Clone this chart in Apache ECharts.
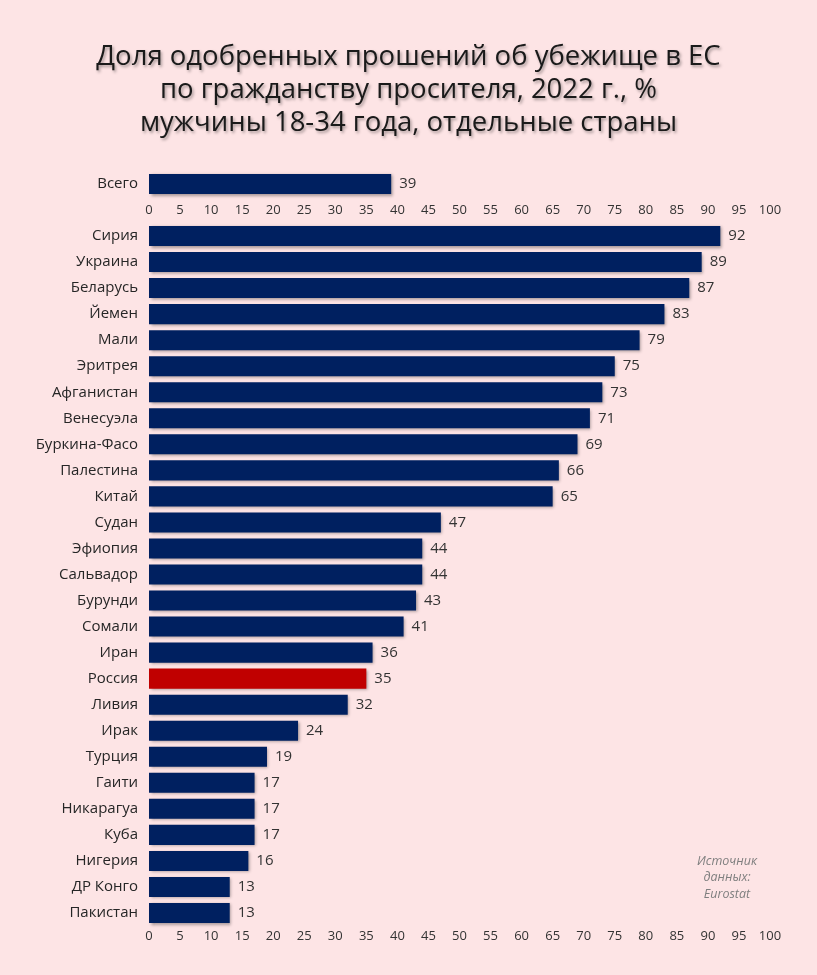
<!DOCTYPE html>
<html><head><meta charset="utf-8">
<script src="https://cdn.jsdelivr.net/npm/echarts@6/dist/echarts.min.js"></script>
<style>html,body{margin:0;padding:0;background:#FDE4E5;}#c{width:817px;height:975px;}</style>
</head><body><div id="c"></div>
<script>
const titleLines = ['Доля одобренных прошений об убежище в ЕС', 'по гражданству просителя, 2022 г., %', 'мужчины 18-34 года, отдельные страны'];
const totalCategory = ['Всего'];
const totalValues = [39];
const countries = ['Сирия','Украина','Беларусь','Йемен','Мали','Эритрея','Афганистан','Венесуэла','Буркина-Фасо','Палестина','Китай','Судан','Эфиопия','Сальвадор','Бурунди','Сомали','Иран','Россия','Ливия','Ирак','Турция','Гаити','Никарагуа','Куба','Нигерия','ДР Конго','Пакистан'];
const values = [92,89,87,83,79,75,73,71,69,66,65,47,44,44,43,41,36,35,32,24,19,17,17,17,16,13,13];
const highlight = 'Россия';
const sourceText = 'Источник\nданных:\nEurostat';

const NAVY = '#002060', RED = '#C00000';
const FONT = '"Open Sans", "Noto Sans", sans-serif';
const chart = echarts.init(document.getElementById('c'), null, {renderer: 'canvas'});
const xAxisCommon = {
  type: 'value', min: 0, max: 100, interval: 5,
  axisLine: {show: false}, axisTick: {show: false}, splitLine: {show: false},
  axisLabel: {color: '#333', fontSize: 13, fontFamily: FONT}
};
const yAxisCommon = {
  type: 'category', inverse: true,
  axisLine: {show: false}, axisTick: {show: false},
  axisLabel: {color: '#262626', fontSize: 15, fontFamily: FONT, margin: 11}
};
const barStyle = {shadowColor: 'rgba(0,0,0,0.35)', shadowBlur: 3, shadowOffsetX: 1.5, shadowOffsetY: 1.5};
const labelStyle = {show: true, position: 'right', distance: 8, color: '#333', fontSize: 15, fontFamily: FONT};

chart.setOption({
  backgroundColor: '#FDE4E5',
  animation: false,
  title: [{
    text: titleLines.join('\n'), left: 'center', top: 36,
    textStyle: {fontSize: 27.5, fontWeight: 'normal', color: '#1a1a1a', fontFamily: FONT, lineHeight: 33,
      textShadowColor: 'rgba(0,0,0,0.35)', textShadowBlur: 3, textShadowOffsetX: 1.5, textShadowOffsetY: 1.5}
  }, {
    text: sourceText, left: 722, top: 848, textAlign: 'center',
    textStyle: {fontSize: 12.5, fontStyle: 'italic', fontWeight: 'normal', color: '#7f7f7f', fontFamily: FONT, lineHeight: 16.5, align: 'center', width: 60}
  }],
  grid: [
    {left: 149, right: 47, top: 171, height: 26},
    {left: 149, right: 47, top: 223, height: 703}
  ],
  xAxis: [
    Object.assign({}, xAxisCommon, {gridIndex: 0, axisLabel: Object.assign({}, xAxisCommon.axisLabel, {margin: 7})}),
    Object.assign({}, xAxisCommon, {gridIndex: 1, axisLabel: Object.assign({}, xAxisCommon.axisLabel, {margin: 4})})
  ],
  yAxis: [
    Object.assign({}, yAxisCommon, {gridIndex: 0, data: totalCategory}),
    Object.assign({}, yAxisCommon, {gridIndex: 1, data: countries})
  ],
  series: [
    {type: 'bar', xAxisIndex: 0, yAxisIndex: 0, data: totalValues, barCategoryGap: '23%',
      itemStyle: Object.assign({color: NAVY}, barStyle), label: labelStyle},
    {type: 'bar', xAxisIndex: 1, yAxisIndex: 1, barCategoryGap: '23%',
      data: values.map((v, i) => ({value: v, itemStyle: Object.assign({color: countries[i] === highlight ? RED : NAVY}, barStyle)})),
      label: labelStyle}
  ]
});
</script></body></html>
